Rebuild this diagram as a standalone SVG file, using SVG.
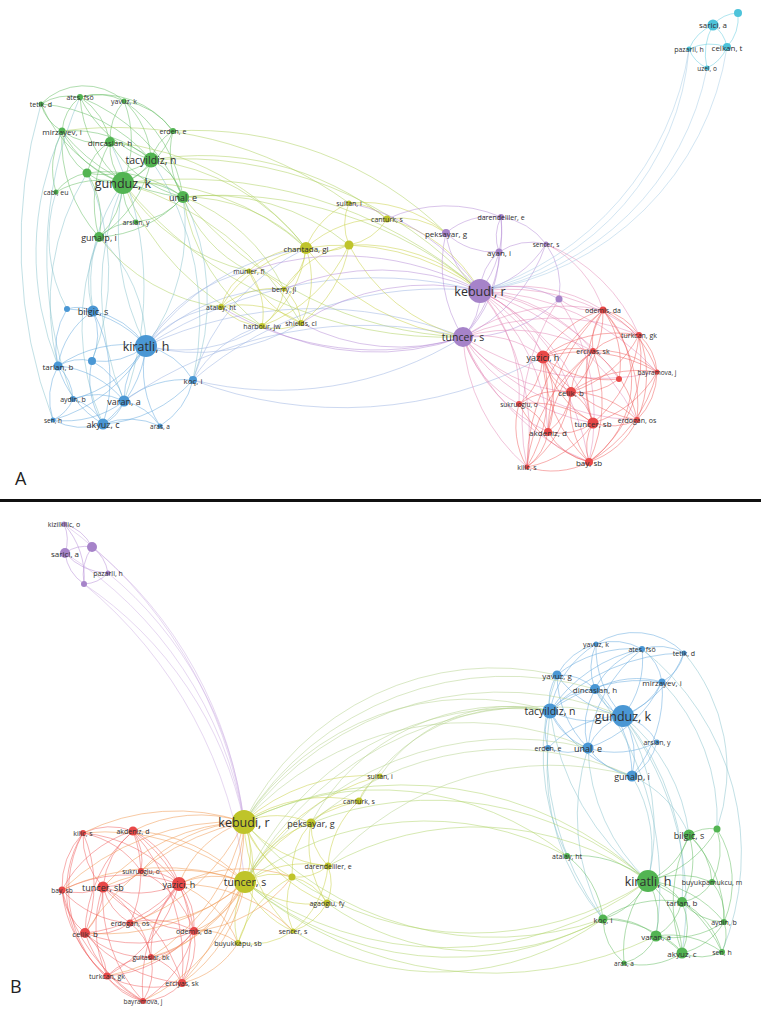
<svg xmlns="http://www.w3.org/2000/svg" width="761" height="1012" viewBox="0 0 761 1012">
<style>
#edges path{fill:none;stroke-width:1;stroke-opacity:.5}
.eg{stroke:#62bb60}.eb{stroke:#62a8de}.ey{stroke:#c8cf40}.ep{stroke:#b48ad6}.er{stroke:#ef5d5d}.ec{stroke:#62cbe0}
.egy{stroke:#acd05a}.egb{stroke:#86c2cc}.ebp{stroke:#9ab2e2}.epr{stroke:#e48ab8}.ecp{stroke:#a6cce6}.eo{stroke:#f0954c}.eyb{stroke:#b4d28c}.eyg{stroke:#aed466}.epl{stroke:#cdb0e4}
.ng circle{fill:#52b452}.nb circle{fill:#4a97d4}.ny circle{fill:#bfc42a}.np circle{fill:#a683c9}.nr circle{fill:#e84848}.nc circle{fill:#4dc3da}
text{font-family:"Open Sans","DejaVu Sans",sans-serif;fill:#2e2e2e;text-anchor:middle;dominant-baseline:central}
.s1{font-size:12.5px}.s2{font-size:10.5px}.s3{font-size:9px}.s4{font-size:8px}.s5{font-size:7px}.s6{font-size:6.5px}
.pl{font-size:18px;fill:#222;text-anchor:start;dominant-baseline:auto}
</style>
<rect width="761" height="1012" fill="#fff"/>
<rect x="0" y="499" width="761" height="3" fill="#111"/>
<g id="edges">
<g class="eg">
<path d="M123 183A150 150 0 0 1 41 104"/><path d="M123 183A125 125 0 0 1 80 97"/><path d="M123 183A110 110 0 0 0 124 101"/><path d="M123 183A105 105 0 0 1 62 131"/><path d="M123 183A95 95 0 0 0 173 131"/><path d="M123 183A60 60 0 0 1 110 142"/><path d="M123 183A50 50 0 0 0 151 160"/><path d="M123 183A50 50 0 0 1 87 173"/><path d="M123 183A90 90 0 0 0 56 192"/><path d="M123 183A80 80 0 0 1 183 197"/><path d="M123 183A55 55 0 0 0 136 222"/><path d="M123 183A80 80 0 0 1 99 237"/>
<path d="M151 160A160 160 0 0 0 41 104"/><path d="M151 160A125 125 0 0 1 80 97"/><path d="M151 160A85 85 0 0 0 124 101"/><path d="M151 160A120 120 0 0 0 62 131"/><path d="M151 160A50 50 0 0 1 173 131"/><path d="M151 160A60 60 0 0 0 110 142"/><path d="M151 160A60 60 0 0 1 183 197"/><path d="M151 160A120 120 0 0 1 99 237"/><path d="M151 160A85 85 0 0 1 87 173"/>
<path d="M110 142A65 65 0 0 1 62 131"/><path d="M110 142A70 70 0 0 0 80 97"/><path d="M110 142A60 60 0 0 1 124 101"/><path d="M110 142A115 115 0 0 0 183 197"/><path d="M110 142A50 50 0 0 0 87 173"/><path d="M110 142A125 125 0 0 0 99 237"/>
<path d="M62 131A45 45 0 0 1 41 104"/><path d="M62 131A50 50 0 0 1 80 97"/><path d="M62 131A60 60 0 0 0 87 173"/><path d="M62 131A145 145 0 0 0 99 237"/><path d="M62 131A175 175 0 0 0 183 197"/>
<path d="M183 197A85 85 0 0 1 173 131"/><path d="M183 197A140 140 0 0 0 124 101"/><path d="M183 197A190 190 0 0 0 80 97"/><path d="M183 197A120 120 0 0 1 99 237"/><path d="M183 197A70 70 0 0 1 136 222"/><path d="M183 197A130 130 0 0 0 87 173"/>
<path d="M80 97A60 60 0 0 1 124 101"/><path d="M80 97A55 55 0 0 0 41 104"/><path d="M124 101A75 75 0 0 1 173 131"/><path d="M87 173A50 50 0 0 0 56 192"/><path d="M87 173A85 85 0 0 1 99 237"/><path d="M99 237A55 55 0 0 1 136 222"/><path d="M56 192A80 80 0 0 1 62 131"/><path d="M80 97A90 90 0 0 1 173 131"/><path d="M41 104A60 60 0 0 1 124 101"/>
</g>
<g class="egy">
<path d="M123 183A250 250 0 0 1 306 248"/><path d="M151 160A230 230 0 0 1 306 248"/><path d="M183 197A170 170 0 0 1 306 248"/><path d="M183 197A220 220 0 0 1 349 245"/><path d="M183 197A400 400 0 0 1 480 291"/><path d="M123 183A450 450 0 0 1 480 291"/><path d="M151 160A400 400 0 0 1 480 291"/><path d="M123 183A420 420 0 0 0 463 337"/><path d="M183 197A380 380 0 0 0 463 337"/><path d="M110 142A280 280 0 0 1 306 248"/><path d="M123 183A200 200 0 0 0 249 271"/><path d="M183 197A130 130 0 0 0 249 271"/><path d="M183 197A180 180 0 0 1 284 289"/><path d="M183 197A200 200 0 0 0 262 326"/><path d="M123 183A300 300 0 0 1 301 323"/><path d="M99 237A180 180 0 0 0 221 307"/><path d="M151 160A300 300 0 0 1 387 219"/><path d="M123 183A260 260 0 0 0 262 326"/><path d="M173 131A360 360 0 0 1 446 233"/><path d="M62 131A400 400 0 0 1 349 203"/>
</g>
<g class="egb">
<path d="M62 131A300 300 0 0 0 58 366"/><path d="M41 104A500 500 0 0 0 53 420"/><path d="M123 183A250 250 0 0 0 146 346"/><path d="M99 237A150 150 0 0 1 146 346"/><path d="M99 237A100 100 0 0 0 93 311"/><path d="M123 183A170 170 0 0 0 93 311"/><path d="M87 173A250 250 0 0 0 58 366"/><path d="M110 142A330 330 0 0 1 124 401"/><path d="M123 183A280 280 0 0 0 124 401"/><path d="M151 160A280 280 0 0 1 193 380"/><path d="M183 197A200 200 0 0 1 146 346"/><path d="M183 197A230 230 0 0 1 193 380"/><path d="M56 192A150 150 0 0 0 67 309"/><path d="M99 237A240 240 0 0 0 103 424"/><path d="M87 173A240 240 0 0 1 92 361"/><path d="M80 97A400 400 0 0 0 73 399"/>
</g>
<g class="eb">
<path d="M146 346A110 110 0 0 0 67 309"/><path d="M146 346A85 85 0 0 0 93 311"/><path d="M146 346A75 75 0 0 1 92 361"/><path d="M146 346A120 120 0 0 0 58 366"/><path d="M146 346A75 75 0 0 1 193 380"/><path d="M146 346A120 120 0 0 1 73 399"/><path d="M146 346A80 80 0 0 0 124 401"/><path d="M146 346A155 155 0 0 1 53 420"/><path d="M146 346A115 115 0 0 1 103 424"/><path d="M146 346A105 105 0 0 0 160 426"/>
<path d="M93 311A35 35 0 0 0 67 309"/><path d="M93 311A80 80 0 0 0 58 366"/><path d="M93 311A65 65 0 0 1 92 361"/><path d="M93 311A145 145 0 0 1 103 424"/><path d="M58 366A50 50 0 0 1 73 399"/><path d="M58 366A70 70 0 0 0 53 420"/><path d="M58 366A100 100 0 0 0 103 424"/><path d="M58 366A95 95 0 0 1 124 401"/><path d="M58 366A45 45 0 0 1 92 361"/>
<path d="M124 401A40 40 0 0 1 103 424"/><path d="M124 401A95 95 0 0 1 193 380"/><path d="M124 401A65 65 0 0 0 73 399"/><path d="M124 401A60 60 0 0 1 160 426"/><path d="M124 401A95 95 0 0 1 53 420"/><path d="M103 424A65 65 0 0 1 53 420"/><path d="M103 424A50 50 0 0 0 73 399"/><path d="M103 424A130 130 0 0 0 193 380"/><path d="M103 424A75 75 0 0 1 160 426"/><path d="M92 361A65 65 0 0 1 124 401"/><path d="M92 361A80 80 0 0 0 103 424"/><path d="M193 380A75 75 0 0 1 160 426"/><path d="M73 399A40 40 0 0 1 53 420"/><path d="M67 309A75 75 0 0 0 58 366"/>
</g>
<g class="ebp">
<path d="M146 346A110 110 0 0 1 221 307"/><path d="M146 346A240 240 0 0 1 306 248"/><path d="M146 346A160 160 0 0 1 249 271"/><path d="M146 346A420 420 0 0 1 480 291"/><path d="M146 346A400 400 0 0 1 463 337"/><path d="M193 380A380 380 0 0 1 480 291"/><path d="M193 380A350 350 0 0 0 463 337"/><path d="M193 380A220 220 0 0 1 306 248"/><path d="M193 380A115 115 0 0 1 262 326"/><path d="M146 346A150 150 0 0 0 262 326"/><path d="M146 346A190 190 0 0 1 284 289"/><path d="M193 380A420 420 0 0 0 543 357"/><path d="M146 346A200 200 0 0 0 301 323"/><path d="M124 401A420 420 0 0 1 463 337"/>
</g>
<g class="ey">
<path d="M306 248A80 80 0 0 1 349 203"/><path d="M306 248A110 110 0 0 1 387 219"/><path d="M306 248A55 55 0 0 0 349 245"/><path d="M306 248A80 80 0 0 0 249 271"/><path d="M306 248A60 60 0 0 1 284 289"/><path d="M306 248A130 130 0 0 0 221 307"/><path d="M306 248A115 115 0 0 1 262 326"/><path d="M306 248A95 95 0 0 1 301 323"/>
<path d="M349 245A55 55 0 0 1 349 203"/><path d="M349 245A55 55 0 0 0 387 219"/><path d="M349 245A120 120 0 0 1 301 323"/><path d="M349 245A100 100 0 0 0 284 289"/><path d="M349 245A155 155 0 0 1 262 326"/><path d="M249 271A50 50 0 0 1 284 289"/><path d="M249 271A60 60 0 0 0 221 307"/><path d="M249 271A70 70 0 0 1 262 326"/><path d="M249 271A90 90 0 0 0 301 323"/><path d="M284 289A85 85 0 0 0 221 307"/><path d="M284 289A55 55 0 0 1 262 326"/><path d="M284 289A50 50 0 0 1 301 323"/><path d="M221 307A60 60 0 0 0 262 326"/><path d="M221 307A105 105 0 0 1 301 323"/><path d="M262 326A50 50 0 0 0 301 323"/><path d="M349 203A55 55 0 0 1 387 219"/>
<path d="M306 248A230 230 0 0 1 480 291"/><path d="M306 248A230 230 0 0 0 463 337"/><path d="M349 245A180 180 0 0 1 480 291"/><path d="M349 245A180 180 0 0 0 463 337"/><path d="M387 219A150 150 0 0 1 480 291"/><path d="M387 219A80 80 0 0 1 446 233"/><path d="M349 203A130 130 0 0 1 446 233"/>
</g>
<g class="ep">
<path d="M301 323A230 230 0 0 1 480 291"/><path d="M301 323A210 210 0 0 0 463 337"/><path d="M284 289A250 250 0 0 1 480 291"/><path d="M262 326A260 260 0 0 0 463 337"/><path d="M249 271A290 290 0 0 1 480 291"/><path d="M221 307A300 300 0 0 0 463 337"/><path d="M387 219A140 140 0 0 1 501 217"/><path d="M349 203A210 210 0 0 1 480 291"/>
<path d="M480 291A85 85 0 0 1 446 233"/><path d="M480 291A100 100 0 0 0 501 217"/><path d="M480 291A55 55 0 0 1 499 252"/><path d="M480 291A105 105 0 0 0 546 244"/><path d="M480 291A65 65 0 0 1 463 337"/><path d="M480 291A100 100 0 0 1 559 299"/><path d="M463 337A135 135 0 0 1 446 233"/><path d="M463 337A120 120 0 0 0 499 252"/><path d="M463 337A160 160 0 0 0 501 217"/><path d="M463 337A160 160 0 0 0 546 244"/><path d="M463 337A130 130 0 0 0 559 299"/><path d="M446 233A70 70 0 0 0 499 252"/><path d="M446 233A70 70 0 0 1 501 217"/><path d="M499 252A45 45 0 0 1 501 217"/><path d="M546 244A75 75 0 0 1 559 299"/><path d="M499 252A60 60 0 0 1 546 244"/><path d="M546 244A70 70 0 0 0 501 217"/>
</g>
<g class="epr">
<path d="M480 291A160 160 0 0 1 603 310"/><path d="M480 291A210 210 0 0 1 639 335"/><path d="M480 291A165 165 0 0 1 593 351"/><path d="M480 291A120 120 0 0 1 543 357"/><path d="M480 291A250 250 0 0 1 657 372"/><path d="M480 291A210 210 0 0 1 619 379"/><path d="M480 291A175 175 0 0 1 571 392"/><path d="M480 291A155 155 0 0 1 519 404"/><path d="M480 291A220 220 0 0 1 593 423"/><path d="M480 291A260 260 0 0 1 637 420"/><path d="M480 291A200 200 0 0 1 548 432"/><path d="M480 291A260 260 0 0 1 589 462"/><path d="M480 291A230 230 0 0 1 527 467"/>
<path d="M463 337A185 185 0 0 1 603 310"/><path d="M463 337A225 225 0 0 1 639 335"/><path d="M463 337A170 170 0 0 1 593 351"/><path d="M463 337A105 105 0 0 1 543 357"/><path d="M463 337A250 250 0 0 0 657 372"/><path d="M463 337A150 150 0 0 0 571 392"/><path d="M463 337A110 110 0 0 0 519 404"/><path d="M463 337A195 195 0 0 0 593 423"/><path d="M463 337A240 240 0 0 0 637 420"/><path d="M463 337A165 165 0 0 0 548 432"/><path d="M463 337A230 230 0 0 0 589 462"/><path d="M463 337A185 185 0 0 0 527 467"/>
<path d="M559 299A60 60 0 0 0 603 310"/><path d="M559 299A210 210 0 0 1 589 462"/><path d="M559 299A220 220 0 0 0 527 467"/><path d="M546 244A110 110 0 0 1 603 310"/><path d="M546 244A170 170 0 0 1 639 335"/>
</g>
<g class="er">
<path d="M543 357A100 100 0 0 1 603 310"/><path d="M543 357A125 125 0 0 1 639 335"/><path d="M543 357A65 65 0 0 1 593 351"/><path d="M543 357A150 150 0 0 1 657 372"/><path d="M543 357A100 100 0 0 0 619 379"/><path d="M543 357A55 55 0 0 0 571 392"/><path d="M543 357A65 65 0 0 1 519 404"/><path d="M543 357A110 110 0 0 0 593 423"/><path d="M543 357A145 145 0 0 0 637 420"/><path d="M543 357A95 95 0 0 1 548 432"/><path d="M543 357A145 145 0 0 0 589 462"/><path d="M543 357A145 145 0 0 1 527 467"/>
<path d="M571 392A115 115 0 0 0 603 310"/><path d="M571 392A115 115 0 0 0 639 335"/><path d="M571 392A60 60 0 0 1 593 351"/><path d="M571 392A115 115 0 0 1 657 372"/><path d="M571 392A65 65 0 0 0 619 379"/><path d="M571 392A70 70 0 0 0 519 404"/><path d="M571 392A50 50 0 0 1 593 423"/><path d="M571 392A95 95 0 0 1 637 420"/><path d="M571 392A60 60 0 0 1 548 432"/><path d="M571 392A95 95 0 0 0 589 462"/><path d="M571 392A110 110 0 0 1 527 467"/>
<path d="M593 423A145 145 0 0 1 603 310"/><path d="M593 423A130 130 0 0 0 639 335"/><path d="M593 423A95 95 0 0 1 593 351"/><path d="M593 423A110 110 0 0 0 657 372"/><path d="M593 423A60 60 0 0 0 637 420"/><path d="M593 423A60 60 0 0 1 548 432"/><path d="M593 423A50 50 0 0 0 589 462"/><path d="M593 423A100 100 0 0 1 527 467"/><path d="M593 423A100 100 0 0 0 519 404"/>
<path d="M603 310A60 60 0 0 1 639 335"/><path d="M603 310A55 55 0 0 0 593 351"/><path d="M603 310A105 105 0 0 1 657 372"/><path d="M603 310A90 90 0 0 1 619 379"/><path d="M603 310A145 145 0 0 1 637 420"/><path d="M603 310A100 100 0 0 1 589 462"/><path d="M603 310A170 170 0 0 0 548 432"/><path d="M603 310A200 200 0 0 0 527 467"/>
<path d="M639 335A55 55 0 0 1 657 372"/><path d="M639 335A110 110 0 0 1 637 420"/><path d="M639 335A130 130 0 0 1 589 462"/><path d="M639 335A65 65 0 0 0 593 351"/><path d="M593 351A85 85 0 0 1 657 372"/><path d="M593 351A110 110 0 0 1 637 420"/><path d="M593 351A120 120 0 0 0 548 432"/><path d="M593 351A145 145 0 0 1 589 462"/><path d="M593 351A165 165 0 0 0 527 467"/><path d="M657 372A70 70 0 0 1 637 420"/><path d="M657 372A145 145 0 0 1 589 462"/>
<path d="M548 432A65 65 0 0 0 589 462"/><path d="M548 432A55 55 0 0 1 527 467"/><path d="M548 432A55 55 0 0 0 519 404"/><path d="M589 462A80 80 0 0 1 527 467"/><path d="M589 462A80 80 0 0 0 637 420"/><path d="M519 404A80 80 0 0 0 527 467"/><path d="M519 404A120 120 0 0 0 589 462"/>
</g>
<g class="ec">
<path d="M713 25A35 35 0 0 1 738 13"/><path d="M713 25A45 45 0 0 0 689 49"/><path d="M713 25A35 35 0 0 1 727 47"/><path d="M713 25A60 60 0 0 0 707 68"/><path d="M727 47A45 45 0 0 0 738 13"/><path d="M727 47A40 40 0 0 1 707 68"/><path d="M689 49A35 35 0 0 0 707 68"/><path d="M689 49A50 50 0 0 1 727 47"/>
</g>
<g class="ecp">
<path d="M689 49A300 300 0 0 1 480 291"/><path d="M689 49A270 270 0 0 1 480 291"/><path d="M707 68A280 280 0 0 1 480 291"/><path d="M727 47A290 290 0 0 1 480 291"/>
</g>
<g class="ep">
<path d="M64 524A40 40 0 0 1 65 553"/><path d="M64 524A45 45 0 0 1 92 547"/><path d="M65 553A35 35 0 0 1 92 547"/><path d="M65 553A60 60 0 0 0 108 573"/><path d="M92 547A40 40 0 0 1 108 573"/><path d="M92 547A50 50 0 0 0 84 584"/><path d="M65 553A45 45 0 0 0 84 584"/><path d="M64 524A80 80 0 0 1 84 584"/><path d="M108 573A35 35 0 0 1 84 584"/>
</g>
<g class="epl">
<path d="M92 547A420 420 0 0 1 244 822"/><path d="M65 553A400 400 0 0 1 244 822"/><path d="M108 573A380 380 0 0 1 244 822"/><path d="M84 584A380 380 0 0 1 244 822"/><path d="M64 524A450 450 0 0 1 244 822"/><path d="M84 584A450 450 0 0 1 245 882"/>
</g>
<g class="eb">
<path d="M623 716A100 100 0 0 1 596 644"/><path d="M623 716A90 90 0 0 0 642 649"/><path d="M623 716A115 115 0 0 0 684 653"/><path d="M623 716A100 100 0 0 1 557 675"/><path d="M623 716A70 70 0 0 0 662 682"/><path d="M623 716A50 50 0 0 1 595 689"/><path d="M623 716A95 95 0 0 1 550 711"/><path d="M623 716A55 55 0 0 1 657 742"/><path d="M623 716A105 105 0 0 0 548 748"/><path d="M623 716A60 60 0 0 0 588 748"/><path d="M623 716A80 80 0 0 1 632 776"/>
<path d="M550 711A100 100 0 0 1 596 644"/><path d="M550 711A145 145 0 0 1 642 649"/><path d="M550 711A50 50 0 0 1 557 675"/><path d="M550 711A150 150 0 0 1 662 682"/><path d="M550 711A65 65 0 0 1 595 689"/><path d="M550 711A50 50 0 0 0 548 748"/><path d="M550 711A65 65 0 0 0 588 748"/><path d="M550 711A140 140 0 0 0 632 776"/><path d="M550 711A190 190 0 0 1 684 653"/>
<path d="M595 689A60 60 0 0 1 596 644"/><path d="M595 689A80 80 0 0 1 642 649"/><path d="M595 689A90 90 0 0 1 662 682"/><path d="M595 689A50 50 0 0 0 557 675"/><path d="M595 689A80 80 0 0 0 588 748"/><path d="M595 689A120 120 0 0 1 632 776"/><path d="M557 675A65 65 0 0 1 596 644"/><path d="M557 675A120 120 0 0 1 642 649"/><path d="M557 675A105 105 0 0 0 588 748"/>
<path d="M662 682A45 45 0 0 0 684 653"/><path d="M662 682A50 50 0 0 0 642 649"/><path d="M662 682A130 130 0 0 1 632 776"/><path d="M662 682A125 125 0 0 1 588 748"/><path d="M588 748A70 70 0 0 0 632 776"/><path d="M588 748A50 50 0 0 1 548 748"/><path d="M588 748A90 90 0 0 0 657 742"/><path d="M588 748A145 145 0 0 1 642 649"/><path d="M642 649A60 60 0 0 0 596 644"/><path d="M642 649A55 55 0 0 1 684 653"/><path d="M632 776A55 55 0 0 0 657 742"/><path d="M596 644A70 70 0 0 1 684 653"/>
</g>
<g class="egb">
<path d="M623 716A220 220 0 0 1 648 881"/><path d="M623 716A180 180 0 0 1 689 835"/><path d="M632 776A140 140 0 0 1 648 881"/><path d="M632 776A110 110 0 0 1 689 835"/><path d="M588 748A190 190 0 0 0 648 881"/><path d="M550 711A260 260 0 0 0 648 881"/><path d="M550 711A280 280 0 0 0 603 919"/><path d="M595 689A330 330 0 0 1 656 936"/><path d="M623 716A250 250 0 0 1 682 902"/><path d="M662 682A200 200 0 0 1 717 829"/><path d="M684 653A180 180 0 0 1 717 829"/><path d="M623 716A310 310 0 0 1 682 953"/><path d="M588 748A220 220 0 0 0 603 919"/><path d="M548 748A230 230 0 0 0 603 919"/><path d="M642 649A260 260 0 0 1 722 952"/><path d="M557 675A230 230 0 0 0 567 856"/>
</g>
<g class="eg">
<path d="M648 881A110 110 0 0 0 717 829"/><path d="M648 881A75 75 0 0 0 689 835"/><path d="M648 881A110 110 0 0 0 567 856"/><path d="M648 881A85 85 0 0 1 712 882"/><path d="M648 881A50 50 0 0 1 682 902"/><path d="M648 881A75 75 0 0 1 603 919"/><path d="M648 881A110 110 0 0 1 724 922"/><path d="M648 881A75 75 0 0 1 656 936"/><path d="M648 881A100 100 0 0 1 682 953"/><path d="M648 881A140 140 0 0 1 722 952"/><path d="M648 881A115 115 0 0 0 624 963"/>
<path d="M689 835A40 40 0 0 1 717 829"/><path d="M689 835A85 85 0 0 1 682 902"/><path d="M689 835A65 65 0 0 1 712 882"/><path d="M689 835A120 120 0 0 1 724 922"/><path d="M689 835A150 150 0 0 0 682 953"/>
<path d="M682 902A45 45 0 0 0 712 882"/><path d="M682 902A60 60 0 0 0 724 922"/><path d="M682 902A55 55 0 0 1 656 936"/><path d="M682 902A65 65 0 0 1 682 953"/><path d="M682 902A80 80 0 0 1 722 952"/><path d="M682 902A105 105 0 0 0 603 919"/>
<path d="M656 936A40 40 0 0 1 682 953"/><path d="M656 936A70 70 0 0 0 603 919"/><path d="M656 936A50 50 0 0 1 624 963"/><path d="M656 936A90 90 0 0 0 724 922"/><path d="M656 936A90 90 0 0 1 722 952"/><path d="M682 953A50 50 0 0 0 722 952"/><path d="M682 953A75 75 0 0 1 624 963"/><path d="M682 953A115 115 0 0 0 603 919"/><path d="M682 953A65 65 0 0 0 724 922"/><path d="M603 919A90 90 0 0 0 567 856"/><path d="M603 919A60 60 0 0 0 624 963"/><path d="M724 922A40 40 0 0 1 722 952"/><path d="M724 922A55 55 0 0 0 712 882"/><path d="M717 829A100 100 0 0 1 724 922"/><path d="M717 829A70 70 0 0 1 712 882"/>
</g>
<g class="ey">
<path d="M244 822A185 185 0 0 1 380 776"/><path d="M244 822A150 150 0 0 1 359 801"/><path d="M244 822A85 85 0 0 1 311 823"/><path d="M244 822A125 125 0 0 0 328 866"/><path d="M244 822A80 80 0 0 1 245 882"/><path d="M244 822A95 95 0 0 0 292 877"/><path d="M244 822A150 150 0 0 0 327 903"/><path d="M244 822A155 155 0 0 0 293 931"/><path d="M244 822A155 155 0 0 1 238 943"/>
<path d="M245 882A115 115 0 0 1 311 823"/><path d="M245 882A110 110 0 0 1 328 866"/><path d="M245 882A60 60 0 0 1 292 877"/><path d="M245 882A110 110 0 0 0 327 903"/><path d="M245 882A90 90 0 0 0 293 931"/><path d="M245 882A80 80 0 0 0 238 943"/><path d="M245 882A190 190 0 0 1 359 801"/><path d="M245 882A220 220 0 0 1 380 776"/>
<path d="M311 823A70 70 0 0 1 359 801"/><path d="M311 823A60 60 0 0 0 328 866"/><path d="M311 823A75 75 0 0 0 292 877"/><path d="M311 823A105 105 0 0 0 327 903"/><path d="M359 801A45 45 0 0 1 380 776"/><path d="M359 801A95 95 0 0 0 328 866"/><path d="M328 866A50 50 0 0 1 292 877"/><path d="M328 866A50 50 0 0 1 327 903"/><path d="M328 866A95 95 0 0 1 293 931"/><path d="M327 903A60 60 0 0 1 293 931"/><path d="M327 903A55 55 0 0 0 292 877"/><path d="M292 877A70 70 0 0 0 293 931"/><path d="M292 877A110 110 0 0 0 238 943"/><path d="M238 943A75 75 0 0 0 293 931"/>
</g>
<g class="er">
<path d="M179 884A140 140 0 0 0 83 833"/><path d="M179 884A90 90 0 0 0 133 831"/><path d="M179 884A55 55 0 0 0 141 871"/><path d="M179 884A150 150 0 0 0 62 890"/><path d="M179 884A100 100 0 0 1 103 887"/><path d="M179 884A80 80 0 0 1 130 923"/><path d="M179 884A140 140 0 0 1 85 933"/><path d="M179 884A65 65 0 0 1 194 931"/><path d="M179 884A100 100 0 0 0 151 957"/><path d="M179 884A150 150 0 0 1 107 976"/><path d="M179 884A130 130 0 0 1 182 983"/><path d="M179 884A160 160 0 0 0 143 1001"/>
<path d="M103 887A75 75 0 0 1 83 833"/><path d="M103 887A85 85 0 0 1 133 831"/><path d="M103 887A55 55 0 0 0 141 871"/><path d="M103 887A55 55 0 0 1 62 890"/><path d="M103 887A60 60 0 0 0 130 923"/><path d="M103 887A65 65 0 0 1 85 933"/><path d="M103 887A130 130 0 0 0 194 931"/><path d="M103 887A110 110 0 0 1 151 957"/><path d="M103 887A115 115 0 0 0 107 976"/><path d="M103 887A160 160 0 0 1 182 983"/><path d="M103 887A155 155 0 0 0 143 1001"/>
<path d="M85 933A130 130 0 0 0 83 833"/><path d="M85 933A140 140 0 0 1 133 831"/><path d="M85 933A65 65 0 0 1 62 890"/><path d="M85 933A60 60 0 0 0 130 923"/><path d="M85 933A140 140 0 0 0 194 931"/><path d="M85 933A90 90 0 0 0 151 957"/><path d="M85 933A65 65 0 0 1 107 976"/><path d="M85 933A145 145 0 0 0 182 983"/><path d="M85 933A120 120 0 0 0 143 1001"/>
<path d="M133 831A65 65 0 0 0 83 833"/><path d="M133 831A55 55 0 0 1 141 871"/><path d="M133 831A120 120 0 0 0 62 890"/><path d="M133 831A120 120 0 0 1 130 923"/><path d="M133 831A155 155 0 0 1 194 931"/><path d="M133 831A200 200 0 0 1 182 983"/>
<path d="M62 890A80 80 0 0 1 83 833"/><path d="M62 890A130 130 0 0 0 107 976"/><path d="M62 890A185 185 0 0 0 143 1001"/><path d="M62 890A100 100 0 0 0 130 923"/>
<path d="M194 931A85 85 0 0 0 130 923"/><path d="M194 931A65 65 0 0 1 151 957"/><path d="M194 931A70 70 0 0 1 182 983"/><path d="M194 931A125 125 0 0 1 107 976"/><path d="M194 931A115 115 0 0 1 143 1001"/><path d="M194 931A105 105 0 0 0 141 871"/>
<path d="M107 976A60 60 0 0 0 143 1001"/><path d="M107 976A65 65 0 0 1 151 957"/><path d="M107 976A100 100 0 0 0 182 983"/><path d="M182 983A55 55 0 0 1 143 1001"/><path d="M182 983A55 55 0 0 0 151 957"/><path d="M151 957A55 55 0 0 0 130 923"/><path d="M151 957A60 60 0 0 1 143 1001"/><path d="M83 833A95 95 0 0 1 141 871"/><path d="M83 833A120 120 0 0 0 143 1001"/><path d="M83 833A110 110 0 0 0 107 976"/>
</g>
<g class="eo">
<path d="M244 822A105 105 0 0 0 179 884"/><path d="M244 822A200 200 0 0 0 103 887"/><path d="M244 822A145 145 0 0 0 133 831"/><path d="M244 822A250 250 0 0 0 85 933"/><path d="M244 822A155 155 0 0 1 194 931"/><path d="M244 822A230 230 0 0 1 182 983"/><path d="M244 822A210 210 0 0 0 83 833"/><path d="M244 822A195 195 0 0 1 130 923"/><path d="M244 822A210 210 0 0 1 151 957"/><path d="M244 822A250 250 0 0 0 62 890"/><path d="M244 822A150 150 0 0 0 141 871"/>
<path d="M245 882A85 85 0 0 0 179 884"/><path d="M245 882A185 185 0 0 0 103 887"/><path d="M245 882A95 95 0 0 1 194 931"/><path d="M245 882A155 155 0 0 1 182 983"/><path d="M245 882A215 215 0 0 1 85 933"/><path d="M245 882A155 155 0 0 1 130 923"/><path d="M245 882A165 165 0 0 0 133 831"/><path d="M245 882A155 155 0 0 1 151 957"/><path d="M245 882A215 215 0 0 1 107 976"/><path d="M245 882A195 195 0 0 1 143 1001"/><path d="M245 882A240 240 0 0 0 62 890"/><path d="M245 882A220 220 0 0 0 83 833"/>
<path d="M238 943A110 110 0 0 0 179 884"/><path d="M238 943A60 60 0 0 0 194 931"/><path d="M238 943A90 90 0 0 1 182 983"/><path d="M292 877A145 145 0 0 0 179 884"/><path d="M292 877A140 140 0 0 1 194 931"/><path d="M293 931A160 160 0 0 0 179 884"/>
</g>
<g class="eyb">
<path d="M244 822A320 320 0 0 1 623 716"/><path d="M244 822A270 270 0 0 1 550 711"/><path d="M244 822A300 300 0 0 1 588 748"/><path d="M245 882A340 340 0 0 1 623 716"/><path d="M245 882A290 290 0 0 1 550 711"/><path d="M245 882A320 320 0 0 1 588 748"/><path d="M244 822A310 310 0 0 1 595 689"/><path d="M311 823A220 220 0 0 1 550 711"/><path d="M359 801A180 180 0 0 1 550 711"/><path d="M380 776A160 160 0 0 1 550 711"/><path d="M244 822A280 280 0 0 1 557 675"/><path d="M311 823A300 300 0 0 1 632 776"/><path d="M328 866A300 300 0 0 1 632 776"/>
</g>
<g class="eyg">
<path d="M245 882A340 340 0 0 0 648 881"/><path d="M245 882A320 320 0 0 0 603 919"/><path d="M244 822A360 360 0 0 1 648 881"/><path d="M244 822A330 330 0 0 0 603 919"/><path d="M292 877A320 320 0 0 0 648 881"/><path d="M327 903A260 260 0 0 0 603 919"/><path d="M328 866A300 300 0 0 1 648 881"/><path d="M293 931A280 280 0 0 0 603 919"/><path d="M245 882A380 380 0 0 0 656 936"/><path d="M311 823A330 330 0 0 1 648 881"/><path d="M244 822A300 300 0 0 1 567 856"/><path d="M245 882A300 300 0 0 1 567 856"/>
</g>
</g>
<g id="panel-a">
<g id="a-tetik" class="ng"><circle cx="41" cy="104" r="2.5"/><text x="41" y="104" class="s5">tetik, d</text></g>
<g id="a-ates" class="ng"><circle cx="80" cy="97" r="3"/><text x="80" y="97" class="s5">ates, fsö</text></g>
<g id="a-yavuzk" class="ng"><circle cx="124" cy="101" r="2.5"/><text x="124" y="101" class="s5">yavuz, k</text></g>
<g id="a-mirzayev" class="ng"><circle cx="62" cy="131" r="3.5"/><text x="62" y="131" class="s4">mirzayev, i</text></g>
<g id="a-erden" class="ng"><circle cx="173" cy="131" r="3"/><text x="173" y="131" class="s5">erden, e</text></g>
<g id="a-dincaslan" class="ng"><circle cx="110" cy="142" r="5"/><text x="110" y="142" class="s4">dincaslan, h</text></g>
<g id="a-tacyildiz" class="ng"><circle cx="151" cy="160" r="7.5"/><text x="151" y="160" class="s2">tacyildiz, n</text></g>
<g id="a-g1" class="ng"><circle cx="87" cy="173" r="4.5"/></g>
<g id="a-gunduz" class="ng"><circle cx="123" cy="183" r="11"/><text x="123" y="183" class="s1">gunduz, k</text></g>
<g id="a-cabi" class="ng"><circle cx="56" cy="192" r="2.5"/><text x="56" y="192" class="s5">cabi, eu</text></g>
<g id="a-unal" class="ng"><circle cx="183" cy="197" r="6"/><text x="183" y="197" class="s3">unal, e</text></g>
<g id="a-arslan" class="ng"><circle cx="136" cy="222" r="2.5"/><text x="136" y="222" class="s5">arslan, y</text></g>
<g id="a-gunalp" class="ng"><circle cx="99" cy="237" r="5"/><text x="99" y="237" class="s3">gunalp, i</text></g>
<g id="a-b1" class="nb"><circle cx="67" cy="309" r="3"/></g>
<g id="a-bilgic" class="nb"><circle cx="93" cy="311" r="5.5"/><text x="93" y="311" class="s3">bilgic, s</text></g>
<g id="a-kiratli" class="nb"><circle cx="146" cy="346" r="11"/><text x="146" y="346" class="s1">kiratli, h</text></g>
<g id="a-b2" class="nb"><circle cx="92" cy="361" r="4"/></g>
<g id="a-tarlan" class="nb"><circle cx="58" cy="366" r="4.5"/><text x="58" y="366" class="s4">tarlan, b</text></g>
<g id="a-koc" class="nb"><circle cx="193" cy="380" r="4"/><text x="193" y="380" class="s4">koç, i</text></g>
<g id="a-aydin" class="nb"><circle cx="73" cy="399" r="3"/><text x="73" y="399" class="s5">aydin, b</text></g>
<g id="a-varan" class="nb"><circle cx="124" cy="401" r="5.5"/><text x="124" y="401" class="s3">varan, a</text></g>
<g id="a-sen" class="nb"><circle cx="53" cy="420" r="2.5"/><text x="53" y="420" class="s6">sen, h</text></g>
<g id="a-akyuz" class="nb"><circle cx="103" cy="424" r="5.5"/><text x="103" y="424" class="s3">akyuz, c</text></g>
<g id="a-aras" class="nb"><circle cx="160" cy="426" r="2.5"/><text x="160" y="426" class="s6">aras, a</text></g>
<g id="a-sultan" class="ny"><circle cx="349" cy="203" r="2.5"/><text x="349" y="203" class="s5">sultan, i</text></g>
<g id="a-canturk" class="ny"><circle cx="387" cy="219" r="3.5"/><text x="387" y="219" class="s5">canturk, s</text></g>
<g id="a-chantada" class="ny"><circle cx="306" cy="248" r="6"/><text x="306" y="248" class="s4">chantada, gl</text></g>
<g id="a-y1" class="ny"><circle cx="349" cy="245" r="4.5"/></g>
<g id="a-munier" class="ny"><circle cx="249" cy="271" r="2.5"/><text x="249" y="271" class="s5">munier, fl</text></g>
<g id="a-berry" class="ny"><circle cx="284" cy="289" r="2.5"/><text x="284" y="289" class="s5">berry, jl</text></g>
<g id="a-atalay" class="ny"><circle cx="221" cy="307" r="3"/><text x="221" y="307" class="s5">atalay, ht</text></g>
<g id="a-harbour" class="ny"><circle cx="262" cy="326" r="3"/><text x="262" y="326" class="s5">harbour, jw</text></g>
<g id="a-shields" class="ny"><circle cx="301" cy="323" r="3"/><text x="301" y="323" class="s5">shields, cl</text></g>
<g id="a-peksayar" class="np"><circle cx="446" cy="233" r="4"/><text x="446" y="233" class="s4">peksayar, g</text></g>
<g id="a-darendeliler" class="np"><circle cx="501" cy="217" r="3"/><text x="501" y="217" class="s5">darendeliler, e</text></g>
<g id="a-ayan" class="np"><circle cx="499" cy="252" r="3.5"/><text x="499" y="252" class="s4">ayan, i</text></g>
<g id="a-sencer" class="np"><circle cx="546" cy="244" r="2.5"/><text x="546" y="244" class="s6">sencer, s</text></g>
<g id="a-kebudi" class="np"><circle cx="480" cy="291" r="12"/><text x="480" y="291" class="s1">kebudi, r</text></g>
<g id="a-p1" class="np"><circle cx="559" cy="299" r="3.5"/></g>
<g id="a-tuncers" class="np"><circle cx="463" cy="337" r="10"/><text x="463" y="337" class="s2">tuncer, s</text></g>
<g id="a-odemis" class="nr"><circle cx="603" cy="310" r="3.5"/><text x="603" y="310" class="s5">odemis, da</text></g>
<g id="a-turkcan" class="nr"><circle cx="639" cy="335" r="3"/><text x="639" y="335" class="s5">turkcan, gk</text></g>
<g id="a-erciyas" class="nr"><circle cx="593" cy="351" r="3"/><text x="593" y="351" class="s5">erciyas, sk</text></g>
<g id="a-yazici" class="nr"><circle cx="543" cy="357" r="6.5"/><text x="543" y="357" class="s3">yazici, h</text></g>
<g id="a-bayramova" class="nr"><circle cx="657" cy="372" r="2.5"/><text x="657" y="372" class="s6">bayramova, j</text></g>
<g id="a-r1" class="nr"><circle cx="619" cy="379" r="3"/></g>
<g id="a-celik" class="nr"><circle cx="571" cy="392" r="5"/><text x="571" y="392" class="s4">celik, b</text></g>
<g id="a-sukruoglu" class="nr"><circle cx="519" cy="404" r="3"/><text x="519" y="404" class="s6">sukruoglu, o</text></g>
<g id="a-tuncersb" class="nr"><circle cx="593" cy="423" r="5.5"/><text x="593" y="423" class="s4">tuncer, sb</text></g>
<g id="a-erdogan" class="nr"><circle cx="637" cy="420" r="3"/><text x="637" y="420" class="s5">erdogan, os</text></g>
<g id="a-akdeniz" class="nr"><circle cx="548" cy="432" r="4"/><text x="548" y="432" class="s4">akdeniz, d</text></g>
<g id="a-bay" class="nr"><circle cx="589" cy="462" r="4"/><text x="589" y="462" class="s4">bay, sb</text></g>
<g id="a-kilic" class="nr"><circle cx="527" cy="467" r="2.5"/><text x="527" y="467" class="s5">kilic, s</text></g>
<g id="a-sarici" class="nc"><circle cx="713" cy="25" r="5.5"/><text x="713" y="24" class="s4">sarici, a</text></g>
<g id="a-c1" class="nc"><circle cx="738" cy="13" r="4"/></g>
<g id="a-pazarli" class="nc"><circle cx="689" cy="49" r="2.5"/><text x="689" y="49" class="s5">pazarli, h</text></g>
<g id="a-celkan" class="nc"><circle cx="727" cy="47" r="4"/><text x="727" y="47" class="s4">celkan, t</text></g>
<g id="a-uzel" class="nc"><circle cx="707" cy="68" r="2.5"/><text x="707" y="68" class="s6">uzel, o</text></g>
<text x="15" y="485" class="pl">A</text>
</g>
<g id="panel-b">
<g id="b-kizilkilic" class="np"><circle cx="64" cy="524" r="2.5"/><text x="64" y="524" class="s5">kizilkilic, o</text></g>
<g id="b-sarici" class="np"><circle cx="65" cy="553" r="5"/><text x="65" y="553" class="s4">sarici, a</text></g>
<g id="b-p1" class="np"><circle cx="92" cy="547" r="5"/></g>
<g id="b-pazarli" class="np"><circle cx="108" cy="573" r="2.5"/><text x="108" y="573" class="s5">pazarli, h</text></g>
<g id="b-p2" class="np"><circle cx="84" cy="584" r="3"/></g>
<g id="b-yavuzk" class="nb"><circle cx="596" cy="644" r="2.5"/><text x="596" y="644" class="s5">yavuz, k</text></g>
<g id="b-ates" class="nb"><circle cx="642" cy="649" r="3"/><text x="642" y="649" class="s5">ates, fsö</text></g>
<g id="b-tetik" class="nb"><circle cx="684" cy="653" r="2.5"/><text x="684" y="653" class="s5">tetik, d</text></g>
<g id="b-yavuzg" class="nb"><circle cx="557" cy="675" r="4.5"/><text x="557" y="675" class="s4">yavuz, g</text></g>
<g id="b-mirzayev" class="nb"><circle cx="662" cy="682" r="3.5"/><text x="662" y="682" class="s4">mirzayev, i</text></g>
<g id="b-dincaslan" class="nb"><circle cx="595" cy="689" r="5"/><text x="595" y="689" class="s4">dincaslan, h</text></g>
<g id="b-tacyildiz" class="nb"><circle cx="550" cy="711" r="7.5"/><text x="550" y="711" class="s2">tacyildiz, n</text></g>
<g id="b-gunduz" class="nb"><circle cx="623" cy="716" r="11"/><text x="623" y="716" class="s1">gunduz, k</text></g>
<g id="b-arslan" class="nb"><circle cx="657" cy="742" r="2.5"/><text x="657" y="742" class="s5">arslan, y</text></g>
<g id="b-erden" class="nb"><circle cx="548" cy="748" r="3"/><text x="548" y="748" class="s5">erden, e</text></g>
<g id="b-unal" class="nb"><circle cx="588" cy="748" r="5.5"/><text x="588" y="748" class="s3">unal, e</text></g>
<g id="b-gunalp" class="nb"><circle cx="632" cy="776" r="5.5"/><text x="632" y="776" class="s3">gunalp, i</text></g>
<g id="b-g1" class="ng"><circle cx="717" cy="829" r="3.5"/></g>
<g id="b-bilgic" class="ng"><circle cx="689" cy="835" r="5.5"/><text x="689" y="835" class="s3">bilgic, s</text></g>
<g id="b-atalay" class="ng"><circle cx="567" cy="856" r="3"/><text x="567" y="856" class="s5">atalay, ht</text></g>
<g id="b-kiratli" class="ng"><circle cx="648" cy="881" r="11"/><text x="648" y="881" class="s1">kiratli, h</text></g>
<g id="b-buyukpamukcu" class="ng"><circle cx="712" cy="882" r="3"/><text x="712" y="882" class="s5">buyukpamukcu, m</text></g>
<g id="b-tarlan" class="ng"><circle cx="682" cy="902" r="5"/><text x="682" y="902" class="s4">tarlan, b</text></g>
<g id="b-koc" class="ng"><circle cx="603" cy="919" r="4.5"/><text x="603" y="919" class="s4">koç, i</text></g>
<g id="b-aydin" class="ng"><circle cx="724" cy="922" r="3"/><text x="724" y="922" class="s5">aydin, b</text></g>
<g id="b-varan" class="ng"><circle cx="656" cy="936" r="5.5"/><text x="656" y="936" class="s4">varan, a</text></g>
<g id="b-akyuz" class="ng"><circle cx="682" cy="953" r="5.5"/><text x="682" y="953" class="s4">akyuz, c</text></g>
<g id="b-sen" class="ng"><circle cx="722" cy="952" r="3"/><text x="722" y="952" class="s5">sen, h</text></g>
<g id="b-aras" class="ng"><circle cx="624" cy="963" r="2.5"/><text x="624" y="963" class="s6">aras, a</text></g>
<g id="b-sultan" class="ny"><circle cx="380" cy="776" r="2.5"/><text x="380" y="776" class="s5">sultan, i</text></g>
<g id="b-canturk" class="ny"><circle cx="359" cy="801" r="3.5"/><text x="359" y="801" class="s5">canturk, s</text></g>
<g id="b-kebudi" class="ny"><circle cx="244" cy="822" r="12"/><text x="244" y="822" class="s1">kebudi, r</text></g>
<g id="b-peksayar" class="ny"><circle cx="311" cy="823" r="4.5"/><text x="311" y="823" class="s3">peksayar, g</text></g>
<g id="b-darendeliler" class="ny"><circle cx="328" cy="866" r="3.5"/><text x="328" y="866" class="s5">darendeliler, e</text></g>
<g id="b-tuncers" class="ny"><circle cx="245" cy="882" r="11"/><text x="245" y="882" class="s2">tuncer, s</text></g>
<g id="b-y1" class="ny"><circle cx="292" cy="877" r="3.5"/></g>
<g id="b-agaoglu" class="ny"><circle cx="327" cy="903" r="3.5"/><text x="327" y="903" class="s5">agaoglu, fy</text></g>
<g id="b-sencer" class="ny"><circle cx="293" cy="931" r="2.5"/><text x="293" y="931" class="s5">sencer, s</text></g>
<g id="b-buyukkapu" class="ny"><circle cx="238" cy="943" r="3"/><text x="238" y="943" class="s5">buyukkapu, sb</text></g>
<g id="b-kilic" class="nr"><circle cx="83" cy="833" r="3"/><text x="83" y="833" class="s5">kilic, s</text></g>
<g id="b-akdeniz" class="nr"><circle cx="133" cy="831" r="4.5"/><text x="133" y="831" class="s5">akdeniz, d</text></g>
<g id="b-sukruoglu" class="nr"><circle cx="141" cy="871" r="3"/><text x="141" y="871" class="s6">sukruoglu, o</text></g>
<g id="b-bay" class="nr"><circle cx="62" cy="890" r="3.5"/><text x="62" y="890" class="s6">bay, sb</text></g>
<g id="b-tuncersb" class="nr"><circle cx="103" cy="887" r="5.5"/><text x="103" y="887" class="s3">tuncer, sb</text></g>
<g id="b-yazici" class="nr"><circle cx="179" cy="884" r="7"/><text x="179" y="884" class="s3">yazici, h</text></g>
<g id="b-erdogan" class="nr"><circle cx="130" cy="923" r="3.5"/><text x="130" y="923" class="s5">erdogan, os</text></g>
<g id="b-celik" class="nr"><circle cx="85" cy="933" r="5"/><text x="85" y="933" class="s4">celik, b</text></g>
<g id="b-odemis" class="nr"><circle cx="194" cy="931" r="4"/><text x="194" y="931" class="s5">odemis, da</text></g>
<g id="b-gultaslar" class="nr"><circle cx="151" cy="957" r="3"/><text x="151" y="957" class="s6">gultaslar, bk</text></g>
<g id="b-turkcan" class="nr"><circle cx="107" cy="976" r="3.5"/><text x="107" y="976" class="s5">turkcan, gk</text></g>
<g id="b-erciyas" class="nr"><circle cx="182" cy="983" r="4"/><text x="182" y="983" class="s5">erciyas, sk</text></g>
<g id="b-bayramova" class="nr"><circle cx="143" cy="1001" r="3"/><text x="143" y="1001" class="s6">bayramova, j</text></g>
<text x="10" y="993" class="pl">B</text>
</g>
</svg>
